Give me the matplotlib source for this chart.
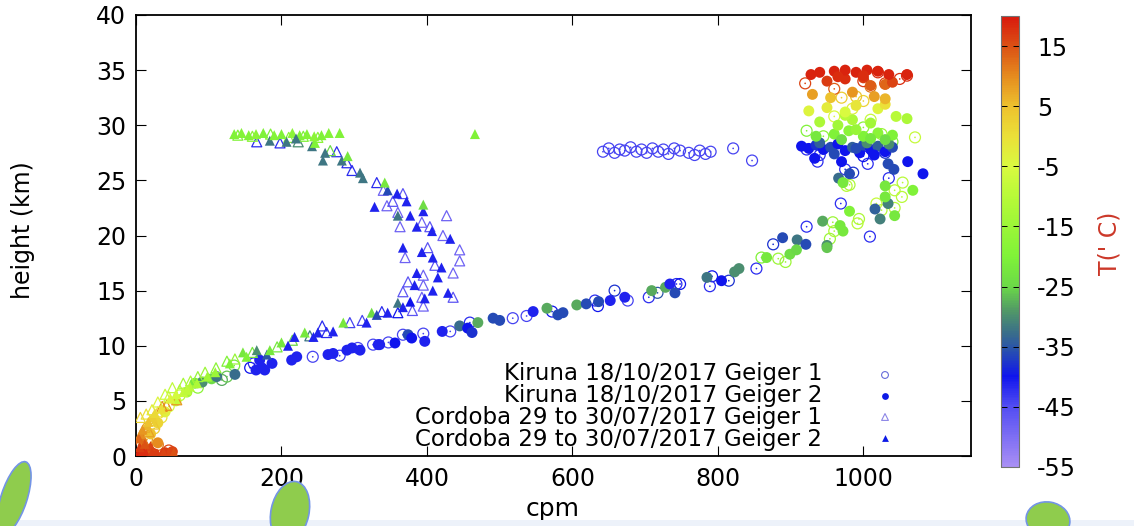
import numpy as np
import matplotlib
matplotlib.use("Agg")
import matplotlib.pyplot as plt
from matplotlib.colors import LinearSegmentedColormap, Normalize
from matplotlib.patches import Ellipse, Rectangle
from matplotlib.transforms import IdentityTransform

plt.rcParams['font.family'] = ['DejaVu Sans']

# ---------------- data (cpm, height km, temperature C) ----------------
k1_cpm = [20, 45, 30, 15, 25, 35, 45, 60, 85, 118, 125, 135, 157, 162, 243, 280, 305, 326, 347, 367,
          395, 432, 459, 518, 537, 572, 631, 635, 658, 676, 705, 717, 743, 748, 792, 789, 815, 853, 860, 876,
          883, 893, 922, 954, 958, 960, 1009, 969, 994, 992, 1025, 1018, 1043, 1053, 1043, 1054, 1035, 975, 986, 977,
          981, 1006, 937, 1071,
          642, 650, 658, 665, 672, 680, 688, 695, 702, 710, 718, 725, 732, 740, 748, 760, 768, 775, 783, 790,
          821, 847,
          922, 940, 1000, 1030, 922, 945, 1000, 1025, 1040, 1010, 960, 985, 1000, 970, 990, 1010, 960, 920,
          1020, 1050, 1060, 1000, 1030]
k1_h = [0.3, 0.5, 1.0, 1.5, 2.5, 3.5, 4.5, 5.5, 6.2, 6.9, 7.2, 8.2, 8.0, 8.4, 9.0, 9.1, 9.8, 10.1, 10.3, 11.0,
        11.1, 11.3, 12.1, 12.5, 12.7, 13.1, 14.1, 13.6, 15.0, 14.1, 14.4, 14.8, 15.6, 15.6, 16.3, 15.4, 15.9, 17.0, 18.0, 19.2,
        17.9, 17.6, 20.8, 19.7, 21.2, 20.4, 19.9, 22.9, 21.5, 21.1, 22.3, 22.9, 22.5, 23.5, 24.1, 24.8, 25.2, 26.0, 25.7, 24.5,
        24.6, 26.5, 26.7, 28.9,
        27.6, 27.9, 27.5, 27.8, 27.7, 28.0, 27.6, 27.8, 27.5, 27.9, 27.6, 27.8, 27.4, 27.9, 27.7, 27.5, 27.3, 27.7, 27.4, 27.6,
        27.9, 26.8,
        27.8, 27.3, 27.2, 27.5, 29.5, 29.0, 29.8, 29.2, 28.5, 30.5, 30.8, 31.5, 32.2, 32.5, 32.6, 33.5, 33.3, 33.8,
        34.8, 34.2, 34.5, 34.0, 33.8]
k1_t = [17, 16, 12, 8, 3, 0, -5, -10, -18, -28, -26, -22, -40, -42, -44, -43, -44, -44, -44, -44,
        -44, -44, -42, -44, -44, -40, -42, -40, -38, -44, -42, -35, -42, -40, -40, -42, -38, -42, -20, -38,
        -15, -15, -42, -15, -15, -12, -42, -42, -12, -10, -10, -8, -10, -10, -10, -10, -42, -42, -38, -10,
        -12, -42, -42, -8,
        -44, -44, -44, -44, -44, -44, -44, -44, -44, -44, -44, -44, -44, -44, -44, -44, -44, -44, -44, -44,
        -44, -44,
        -42, -42, -40, -38, -20, -18, -18, -15, -20, -8, -5, -3, 2, 3, 5, 12, 14, 16,
        18, 18, 18, 17, 16]

k2_cpm = [25, 40, 50, 15, 30, 20, 30, 40, 55, 70, 81, 91, 104, 111, 136, 165, 173, 177, 170, 187,
          214, 221, 264, 271, 290, 297, 308, 333, 335, 356, 374, 379, 397, 421, 445, 456, 462, 470, 491, 500,
          546, 565, 580, 587, 606, 619, 636, 652, 672, 709, 728, 734, 741, 785, 805, 823, 829, 867, 889, 909,
          921, 899, 908, 944, 968, 972, 950, 950, 981, 1016, 1023, 1034, 1030, 1043, 1030, 1068, 1034, 1042, 1061, 1082,
          966, 981, 972, 970, 933,
          915, 925, 935, 945, 955, 965, 975, 985, 995, 1000, 1010, 1020, 1030, 1040, 960, 990, 1015, 940, 1005, 1035,
          935, 960, 980, 1000, 1020, 1040, 970, 1010, 990, 1030,
          940, 965, 985, 1010, 1045, 1060, 975,
          925, 950, 975, 990, 1020, 1030,
          930, 955, 985, 1015, 1030,
          1010, 1030, 950, 975, 1000, 1040,
          928, 940, 960, 975, 990, 1005, 1020, 1035, 1060, 965, 1000]
k2_h = [0.2, 0.3, 0.4, 0.6, 1.2, 2.0, 3.0, 4.0, 5.0, 5.8, 6.6, 6.7, 7.0, 7.2, 7.4, 7.8, 8.0, 7.8, 8.7, 8.4,
        8.7, 9.0, 9.2, 9.3, 9.6, 9.8, 9.6, 10.1, 10.1, 10.25, 11.0, 10.7, 10.4, 11.3, 11.8, 11.6, 11.2, 12.1, 12.5, 12.3,
        13.1, 13.4, 12.8, 13.0, 13.7, 13.8, 14.0, 14.1, 14.4, 15.0, 15.3, 15.6, 14.8, 16.2, 15.9, 16.7, 17.0, 18.0, 19.8, 19.6,
        19.2, 18.3, 18.7, 21.3, 20.9, 20.4, 19.1, 18.9, 22.2, 22.4, 21.5, 22.9, 23.5, 21.8, 24.5, 24.1, 26.5, 26.0, 26.7, 25.6,
        25.2, 25.6, 24.8, 26.7, 27.0,
        28.1, 27.9, 28.2, 27.8, 28.0, 28.3, 27.7, 28.0, 27.5, 28.2, 27.8, 28.1, 27.6, 28.0, 27.4, 27.9, 27.3, 28.4, 28.4, 28.3,
        29.0, 29.2, 29.5, 29.0, 29.3, 29.1, 28.7, 28.8, 29.6, 28.7,
        30.3, 30.0, 30.5, 30.2, 30.8, 30.6, 30.9,
        31.3, 31.6, 31.2, 31.8, 31.5, 31.9,
        32.8, 32.5, 33.0, 32.6, 32.4,
        33.6, 33.7, 34.0, 34.2, 34.3, 33.9,
        34.6, 34.8, 34.9, 35.0, 34.8, 35.0, 34.9, 34.6, 34.6, 34.4, 34.5]
k2_t = [17, 17, 16, 15, 10, 5, 2, -3, -8, -14, -22, -30, -24, -32, -33, -41, -41, -41, -41, -41,
        -41, -41, -41, -41, -41, -41, -41, -41, -41, -40, -36, -40, -41, -41, -33, -40, -38, -28, -36, -36,
        -41, -28, -36, -36, -28, -36, -36, -41, -41, -28, -28, -41, -36, -32, -40, -30, -30, -22, -36, -32,
        -36, -24, -25, -28, -22, -22, -30, -26, -20, -34, -31, -31, -22, -22, -22, -20, -36, -36, -40, -40,
        -33, -36, -22, -40, -40,
        -40, -40, -38, -40, -36, -40, -40, -34, -40, -36, -40, -34, -40, -36, -36, -36, -40, -34, -30, -30,
        -22, -20, -18, -20, -18, -20, -24, -22, -16, -24,
        -12, -14, -12, -14, -10, -12, -10,
        -4, -2, -5, -1, -4, 0,
        8, 5, 9, 8, 6,
        14, 13, 17, 18, 17, 16,
        19, 19, 19, 19, 19, 19, 19, 19, 19, 18, 18]

c1_cpm = [5, 15, 8, 12, 20, 30, 36, 42, 56, 45, 60, 75, 95, 110, 125, 136, 160, 194, 215, 239,
          262, 256, 294, 311, 338, 360, 380, 395, 367, 393, 436, 374, 395, 395, 436, 411, 445, 370, 401, 445,
          422, 404, 363, 393, 427, 360, 345, 353, 367, 340, 331, 297, 290, 276, 267, 223, 198, 166,
          140, 160, 185, 210, 230, 250,
          3, 10, 18, 25, 6, 14, 22, 30, 40, 50, 65, 85]
c1_h = [0.3, 0.8, 1.8, 2.6, 3.2, 4.0, 4.5, 4.6, 5.1, 5.4, 6.0, 6.8, 7.6, 8.0, 8.6, 8.8, 9.4, 9.9, 10.5, 10.9,
        11.2, 11.8, 12.1, 12.3, 13.1, 13.0, 13.2, 13.6, 14.9, 14.4, 14.4, 15.8, 15.5, 16.4, 16.6, 17.3, 17.7, 18.0, 18.9, 18.7,
        20.0, 20.8, 20.8, 21.2, 21.8, 22.1, 22.7, 23.1, 23.8, 24.1, 24.8, 25.9, 26.6, 27.6, 27.7, 28.5, 28.4, 28.5,
        29.1, 29.0, 29.2, 28.9, 29.0, 28.9,
        1.0, 1.4, 2.2, 2.9, 3.5, 3.8, 4.2, 4.9, 5.6, 6.2, 6.6, 7.2]
c1_t = [18, 15, 10, 7, 3, 0, 10, 10, 9, -6, -8, -12, -15, -18, -20, -16, -22, -22, -25, -32,
        -42, -42, -44, -44, -42, -40, -46, -48, -46, -48, -46, -46, -48, -48, -48, -46, -48, -48, -46, -48,
        -48, -46, -48, -48, -48, -48, -48, -46, -46, -48, -42, -42, -42, -42, -25, -30, -42, -42,
        -20, -18, -20, -18, -20, -18,
        14, 12, 8, 4, 2, 0, -2, -4, -7, -9, -13, -16]

c2_cpm = [10, 20, 10, 6, 15, 23, 35, 47, 65, 74, 84, 98, 109, 129, 147, 152, 166, 180, 184, 200,
          209, 218, 232, 244, 250, 271, 285, 317, 324, 331, 346, 360, 367, 377, 397, 408, 429, 383, 415, 386,
          420, 408, 393, 367, 432, 407, 386, 377, 360, 395, 328, 395, 372, 359, 346, 342, 312, 308, 283, 257,
          291, 260, 242, 246, 207, 184, 280, 466,
          135, 145, 155, 165, 175, 190, 200, 215, 225, 235, 245, 255, 265, 220,
          3, 8, 14, 22, 30, 38, 46, 52, 5, 12, 4, 9, 17, 26, 55, 70]
c2_h = [0.5, 0.9, 1.3, 2.0, 2.8, 3.5, 4.3, 5.2, 5.8, 6.3, 6.6, 7.2, 7.6, 8.4, 9.4, 9.0, 9.6, 9.2, 9.6, 10.3,
        10.0, 10.8, 11.2, 10.8, 11.2, 11.3, 12.1, 12.1, 13.0, 12.8, 13.0, 13.9, 13.5, 14.0, 14.3, 15.0, 14.8, 15.5, 16.2, 16.6,
        17.1, 18.0, 18.5, 18.9, 19.7, 20.4, 20.8, 21.8, 21.8, 22.2, 22.6, 22.8, 23.1, 23.8, 24.1, 24.8, 25.2, 25.7, 26.8, 26.8,
        27.2, 27.5, 28.1, 28.4, 28.5, 28.6, 29.3, 29.2,
        29.2, 29.3, 29.1, 29.2, 29.3, 29.1, 29.2, 29.3, 29.1, 29.2, 29.0, 29.1, 29.3, 28.8,
        0.2, 0.3, 0.2, 0.3, 0.2, 0.3, 0.2, 0.3, 0.8, 1.1, 1.6, 2.4, 3.1, 3.9, 5.6, 6.0]
c2_t = [18, 16, 12, 10, 6, 3, 0, -4, -8, -10, -12, -14, -15, -20, -22, -20, -30, -35, -22, -22,
        -41, -41, -22, -41, -41, -41, -22, -41, -24, -36, -41, -32, -41, -40, -41, -41, -41, -41, -41, -41,
        -41, -41, -41, -41, -41, -41, -41, -41, -32, -41, -41, -24, -41, -41, -36, -22, -32, -32, -32, -32,
        -22, -32, -32, -20, -32, -32, -20, -20,
        -20, -19, -20, -18, -20, -19, -20, -18, -20, -19, -18, -20, -19, -32,
        19, 18, 18, 17, 17, 16, 16, 15, 17, 15, 13, 9, 5, 1, -6, -9]

legend_labels = ["Kiruna 18/10/2017 Geiger 1", "Kiruna 18/10/2017 Geiger 2",
                 "Cordoba 29 to 30/07/2017 Geiger 1", "Cordoba 29 to 30/07/2017 Geiger 2"]
cbar_ticks = [15, 5, -5, -15, -25, -35, -45, -55]
x_ticks = [0, 200, 400, 600, 800, 1000]
y_ticks = [0, 5, 10, 15, 20, 25, 30, 35, 40]

# ---------------- colormap ----------------
nodes = [(-55, (0.66, 0.56, 0.96)), (-45, (0.32, 0.30, 0.95)), (-40, (0.06, 0.08, 0.93)),
         (-36, (0.15, 0.30, 0.70)), (-33, (0.22, 0.42, 0.55)), (-29, (0.32, 0.60, 0.40)),
         (-25, (0.42, 0.85, 0.28)), (-20, (0.50, 0.95, 0.22)), (-10, (0.72, 0.98, 0.22)),
         (-5, (0.85, 0.98, 0.25)), (0, (0.92, 0.88, 0.22)), (5, (0.93, 0.76, 0.18)),
         (10, (0.90, 0.55, 0.12)), (15, (0.86, 0.32, 0.08)), (20, (0.85, 0.10, 0.05))]
vmin, vmax = -55, 20
cmap = LinearSegmentedColormap.from_list(
    "temp", [((v - vmin) / (vmax - vmin), c) for v, c in nodes])
norm = Normalize(vmin, vmax)

W, H = 1134, 526
fig = plt.figure(figsize=(W / 100, H / 100), dpi=100)
fig.patch.set_facecolor('white')

ax = fig.add_axes([136 / W, 1 - 456 / H, (971 - 136) / W, (456 - 15) / H])

ms_c = 62
ms_t = 52
ax.scatter(k1_cpm, k1_h, s=ms_c, marker='o', facecolors='none',
           edgecolors=cmap(norm(np.array(k1_t))), linewidths=0.9, zorder=2)
ax.scatter(k1_cpm, k1_h, s=1.5, marker='o', c=cmap(norm(np.array(k1_t))), linewidths=0, zorder=2)
ax.scatter(k2_cpm, k2_h, s=ms_c, marker='o', c=cmap(norm(np.array(k2_t))), linewidths=0, zorder=3)
ax.scatter(c1_cpm, c1_h, s=ms_t, marker='^', facecolors='none',
           edgecolors=cmap(norm(np.array(c1_t))), linewidths=0.9, zorder=4)
ax.scatter(c2_cpm, c2_h, s=ms_t, marker='^', c=cmap(norm(np.array(c2_t))), linewidths=0, zorder=5)

FS = 17
ax.set_xlim(0, 1148)
ax.set_ylim(0, 40)
ax.set_xticks(x_ticks)
ax.set_yticks(y_ticks)
ax.tick_params(direction='in', length=7, width=0.8, top=True, right=True,
               labelsize=FS, colors='black')
ax.tick_params(axis='y', pad=7)
ax.tick_params(axis='x', pad=8)
for sp in ax.spines.values():
    sp.set_linewidth(1.3)
ax.set_xlabel("cpm", fontsize=18)
ax.set_ylabel("height (km)", fontsize=17)
ax.xaxis.set_label_coords((553 - 136) / 835, (456 - 497) / 441)
ax.yaxis.set_label_coords((35 - 136) / 835, (456 - 230) / 441)

# gnuplot-style legend: right-aligned text block, markers on the right
leg_y = [375, 396, 417, 438]
ax.text((822 - 136) / (971 - 136), (456 - 406.5) / (456 - 15), "\n".join(legend_labels),
        transform=ax.transAxes, ha='right', va='center', multialignment='right',
        fontsize=16.5, linespacing=0.93, zorder=10)
leg_marker = [('o', 'none', (0.40, 0.42, 0.85)), ('o', (0.05, 0.10, 0.90), None),
              ('^', 'none', (0.55, 0.52, 0.90)), ('^', (0.05, 0.10, 0.90), None)]
xm = (885 - 136) / (971 - 136)
for yy, (m, fc, ec) in zip(leg_y, leg_marker):
    ya = (456 - yy) / (456 - 15)
    if fc == 'none':
        ax.scatter([xm], [ya], s=24, marker=m, facecolors='none',
                   edgecolors=[ec], linewidths=0.8, transform=ax.transAxes, zorder=10)
    else:
        ax.scatter([xm], [ya], s=24, marker=m, c=[fc], linewidths=0,
                   transform=ax.transAxes, zorder=10)

# colorbar
cax = fig.add_axes([1001 / W, 1 - 467 / H, 18 / W, (467 - 16) / H])
sm = matplotlib.cm.ScalarMappable(norm=norm, cmap=cmap)
cb = fig.colorbar(sm, cax=cax, ticks=cbar_ticks)
cb.set_ticklabels([str(t) for t in cbar_ticks])
cb.outline.set_edgecolor((0.45, 0.45, 0.45))
cb.outline.set_linewidth(0.8)
cax.tick_params(direction='in', length=4, width=0.7, left=True, right=True,
                labelsize=FS, pad=13, colors='black')
for t in cax.get_yticklabels():
    t.set_ha('left')
fig.text(1110 / W, 1 - 243 / H, "T(' C)", rotation=90, ha='center', va='center',
         fontsize=17, color=(0.80, 0.22, 0.16))

# slide decoration at bottom
ident = IdentityTransform()
fig.add_artist(Rectangle((0, 0), W, 6, transform=ident, facecolor=(0.93, 0.95, 0.98),
                         edgecolor='none'))
for (cx, cy, w, h, ang) in [(14, 498, 26, 76, -18), (290, 512, 38, 62, -12), (1048, 520, 44, 36, -10)]:
    fig.add_artist(Ellipse((cx, H - cy), w, h, angle=ang, transform=ident,
                           facecolor=(0.56, 0.80, 0.30), edgecolor=(0.45, 0.58, 0.90), linewidth=1.2))

fig.savefig("out.png", dpi=100)
